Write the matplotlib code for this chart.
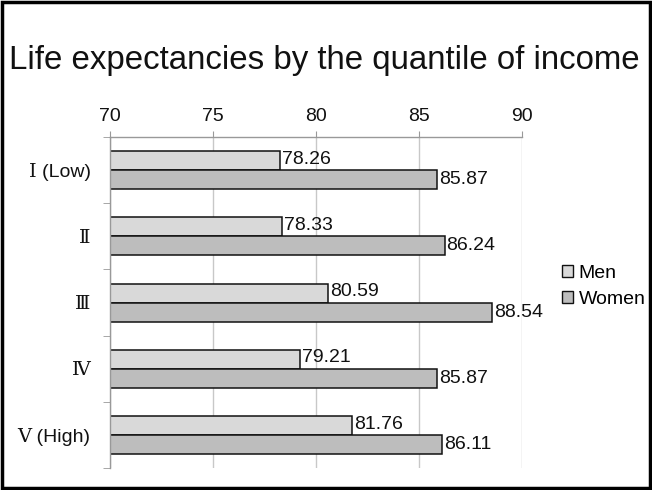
import matplotlib
matplotlib.use("Agg")
import matplotlib.pyplot as plt
import numpy as np
from matplotlib.patches import Rectangle, Patch

plt.rcParams['font.family'] = ['Liberation Sans', 'DejaVu Serif', 'Noto Sans CJK JP']

categories = ["Ⅰ (Low)", "Ⅱ", "Ⅲ", "Ⅳ", "Ⅴ (High)"]
men = [78.26, 78.33, 80.59, 79.21, 81.76]
women = [85.87, 86.24, 88.54, 85.87, 86.11]
xticks = [70, 75, 80, 85, 90]

men_color = "#d9d9d9"
women_color = "#bdbdbd"

fig = plt.figure(figsize=(6.52, 4.9), dpi=100)
fig.patch.set_facecolor("white")
# outer frame
fig.patches.append(Rectangle((0.003, 0.004), 0.994, 0.992, transform=fig.transFigure,
                             fill=False, edgecolor="black", linewidth=2.5))

fig.text(0.497, 0.877, "Life expectancies by the quantile of income",
         ha="center", va="center", fontsize=23.8, color="#111111")

ax = fig.add_axes([0.1687, 0.0449, 0.8006 - 0.1687, 0.7204 - 0.0449])

y = np.arange(len(categories))
h = 0.287
ax.barh(y - h / 2, [m - 70 for m in men], height=h, left=70, color=men_color,
        edgecolor="#111111", linewidth=1.1, label="Men")
ax.barh(y + h / 2, [w - 70 for w in women], height=h, left=70, color=women_color,
        edgecolor="#111111", linewidth=1.1, label="Women")

for yi, m, w in zip(y, men, women):
    ax.text(m + 0.1, yi - h / 2 - 0.02, f"{m:.2f}", va="center", ha="left", fontsize=14, color="#111111")
    ax.text(w + 0.1, yi + h / 2, f"{w:.2f}", va="center", ha="left", fontsize=14, color="#111111")

ax.set_xlim(70, 90)
ax.set_ylim(len(categories) - 0.5, -0.5)
ax.xaxis.tick_top()
ax.set_xticks(xticks)
ax.set_xticklabels([str(t) for t in xticks], fontsize=14)
ax.tick_params(axis="x", length=4, color="#999999", pad=5, labelcolor="#111111")

ax.set_yticks(y)
ax.set_yticklabels(categories, fontsize=14)
ax.tick_params(axis="y", which="major", length=0, pad=14, labelcolor="#111111")
ax.set_yticks(np.arange(-0.5, len(categories)), minor=True)
ax.tick_params(axis="y", which="minor", length=5, color="#999999")

ax.grid(axis="x", color="#c8c8c8", linewidth=1.0)
ax.set_axisbelow(True)
for s in ["right", "bottom"]:
    ax.spines[s].set_visible(False)
for s in ["left", "top"]:
    ax.spines[s].set_color("#999999")
    ax.spines[s].set_linewidth(1.0)

handles = [Patch(facecolor=men_color, edgecolor="#111111", label="Men"),
           Patch(facecolor=women_color, edgecolor="#111111", label="Women")]
fig.legend(handles=handles, loc="center left", bbox_to_anchor=(0.847, 0.416),
           frameon=False, fontsize=14, handlelength=0.55, handleheight=0.55,
           handletextpad=0.3, labelspacing=0.45, borderpad=0)

fig.savefig("out.png", dpi=100, facecolor="white")
